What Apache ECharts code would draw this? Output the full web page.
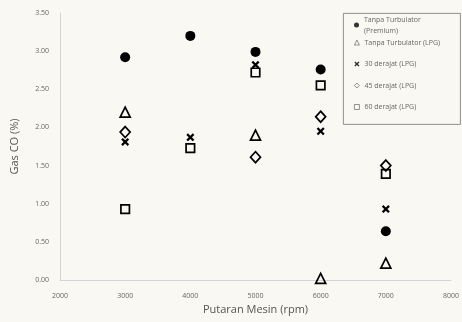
<!DOCTYPE html>
<html>
<head>
<meta charset="utf-8">
<script src="https://cdn.jsdelivr.net/npm/echarts@6/dist/echarts.min.js"></script>
<style>
  html, body { margin: 0; padding: 0; background: #f9f8f3; }
  #chart { width: 462px; height: 322px; }
</style>
</head>
<body>
<div id="chart"></div>
<script>
// Engine speed (rpm) and CO emission (%) per configuration
const rpm = [3000, 4000, 5000, 6000, 7000];
const seriesNames = [
  'Tanpa Turbulator\n(Premium)',
  'Tanpa Turbulator (LPG)',
  '30 derajat (LPG)',
  '45 derajat (LPG)',
  '60 derajat (LPG)'
];
const premium   = [2.92, 3.20, 2.99, 2.76, 0.64];
const lpg       = [2.20, null, 1.90, 0.02, 0.22];
const deg30     = [1.81, 1.87, 2.82, 1.95, 0.93];
const deg45     = [1.94, null, 1.61, 2.14, 1.50];
const deg60     = [0.93, 1.73, 2.72, 2.55, 1.39];
const xTicks = [2000, 3000, 4000, 5000, 6000, 7000, 8000];
const yTicks = [0, 0.5, 1, 1.5, 2, 2.5, 3, 3.5];

const crossPath = 'path://M0,2 L2,0 L5,3 L8,0 L10,2 L7,5 L10,8 L8,10 L5,7 L2,10 L0,8 L3,5 Z';

function pairs(vals) {
  const out = [];
  vals.forEach((v, i) => { if (v !== null) out.push([rpm[i], v]); });
  return out;
}

const filled = { color: '#000', opacity: 1 };
const hollow = { color: 'rgba(0,0,0,0)', borderColor: '#000', borderWidth: 1.7, opacity: 1 };

const styles = [
  { symbol: 'circle', size: 10, itemStyle: filled, data: premium },
  { symbol: 'triangle', size: [10, 10], itemStyle: hollow, data: lpg },
  { symbol: crossPath, size: 8, itemStyle: filled, data: deg30 },
  { symbol: 'diamond', size: [10, 11], itemStyle: hollow, data: deg45 },
  { symbol: 'rect', size: 8.5, itemStyle: hollow, data: deg60 }
];

const series = styles.map((s, i) => ({
  name: seriesNames[i],
  type: 'scatter',
  symbol: s.symbol,
  symbolSize: s.size,
  itemStyle: s.itemStyle,
  emphasis: { disabled: true },
  data: pairs(s.data),
  z: 5 - i
}));

const legendText = { color: '#666', fontSize: 7, fontFamily: 'Open Sans', lineHeight: 11 };
const legendIconStyle = (i) => i === 0 || i === 2
  ? { color: '#333' }
  : { color: 'rgba(0,0,0,0)', borderColor: '#777', borderWidth: 0.8 };

const chart = echarts.init(document.getElementById('chart'), null, { renderer: 'canvas' });
chart.setOption({
  backgroundColor: '#f9f8f3',
  animation: false,
  grid: { left: 60, right: 11, top: 13, bottom: 42 },
  xAxis: {
    type: 'value',
    min: xTicks[0], max: xTicks[xTicks.length - 1], interval: 1000,
    name: 'Putaran Mesin (rpm)',
    nameLocation: 'middle', nameGap: 22,
    nameTextStyle: { color: '#555', fontSize: 11, fontFamily: 'Open Sans' },
    axisLine: { lineStyle: { color: '#d4d4d4', width: 1 } },
    axisTick: { show: false },
    splitLine: { show: false },
    axisLabel: { color: '#666', fontSize: 7, fontFamily: 'Open Sans', margin: 12,
      formatter: v => String(v) }
  },
  yAxis: {
    type: 'value',
    min: yTicks[0], max: yTicks[yTicks.length - 1], interval: 0.5,
    name: 'Gas CO (%)',
    nameLocation: 'middle', nameGap: 40,
    nameTextStyle: { color: '#555', fontSize: 11, fontFamily: 'Open Sans' },
    axisLine: { show: true, lineStyle: { color: '#d4d4d4', width: 1 } },
    axisTick: { show: false },
    splitLine: { show: false },
    axisLabel: { color: '#666', fontSize: 7, fontFamily: 'Open Sans', margin: 11,
      formatter: v => v.toFixed(2) }
  },
  legend: [
    {
      orient: 'vertical', left: 354, top: 14, padding: 0,
      itemWidth: 5, itemHeight: 5, itemGap: 0,
      data: [{ name: seriesNames[0], icon: 'circle', itemStyle: legendIconStyle(0) }],
      textStyle: legendText, selectedMode: false
    },
    {
      orient: 'vertical', left: 354, top: 37, padding: 0,
      itemWidth: 5, itemHeight: 5, itemGap: 10.5,
      data: [
        { name: seriesNames[1], icon: 'triangle', itemStyle: legendIconStyle(1) },
        { name: seriesNames[2], icon: crossPath, itemStyle: legendIconStyle(2) },
        { name: seriesNames[3], icon: 'diamond', itemStyle: legendIconStyle(3) },
        { name: seriesNames[4], icon: 'rect', itemStyle: legendIconStyle(4) }
      ],
      textStyle: legendText, selectedMode: false
    }
  ],
  graphic: [
    {
      type: 'rect', left: 343, top: 13, z: -1,
      shape: { width: 117, height: 111 },
      style: { fill: 'rgba(0,0,0,0)', stroke: '#777', lineWidth: 0.8 }
    }
  ],
  series: series
});
</script>
</body>
</html>
